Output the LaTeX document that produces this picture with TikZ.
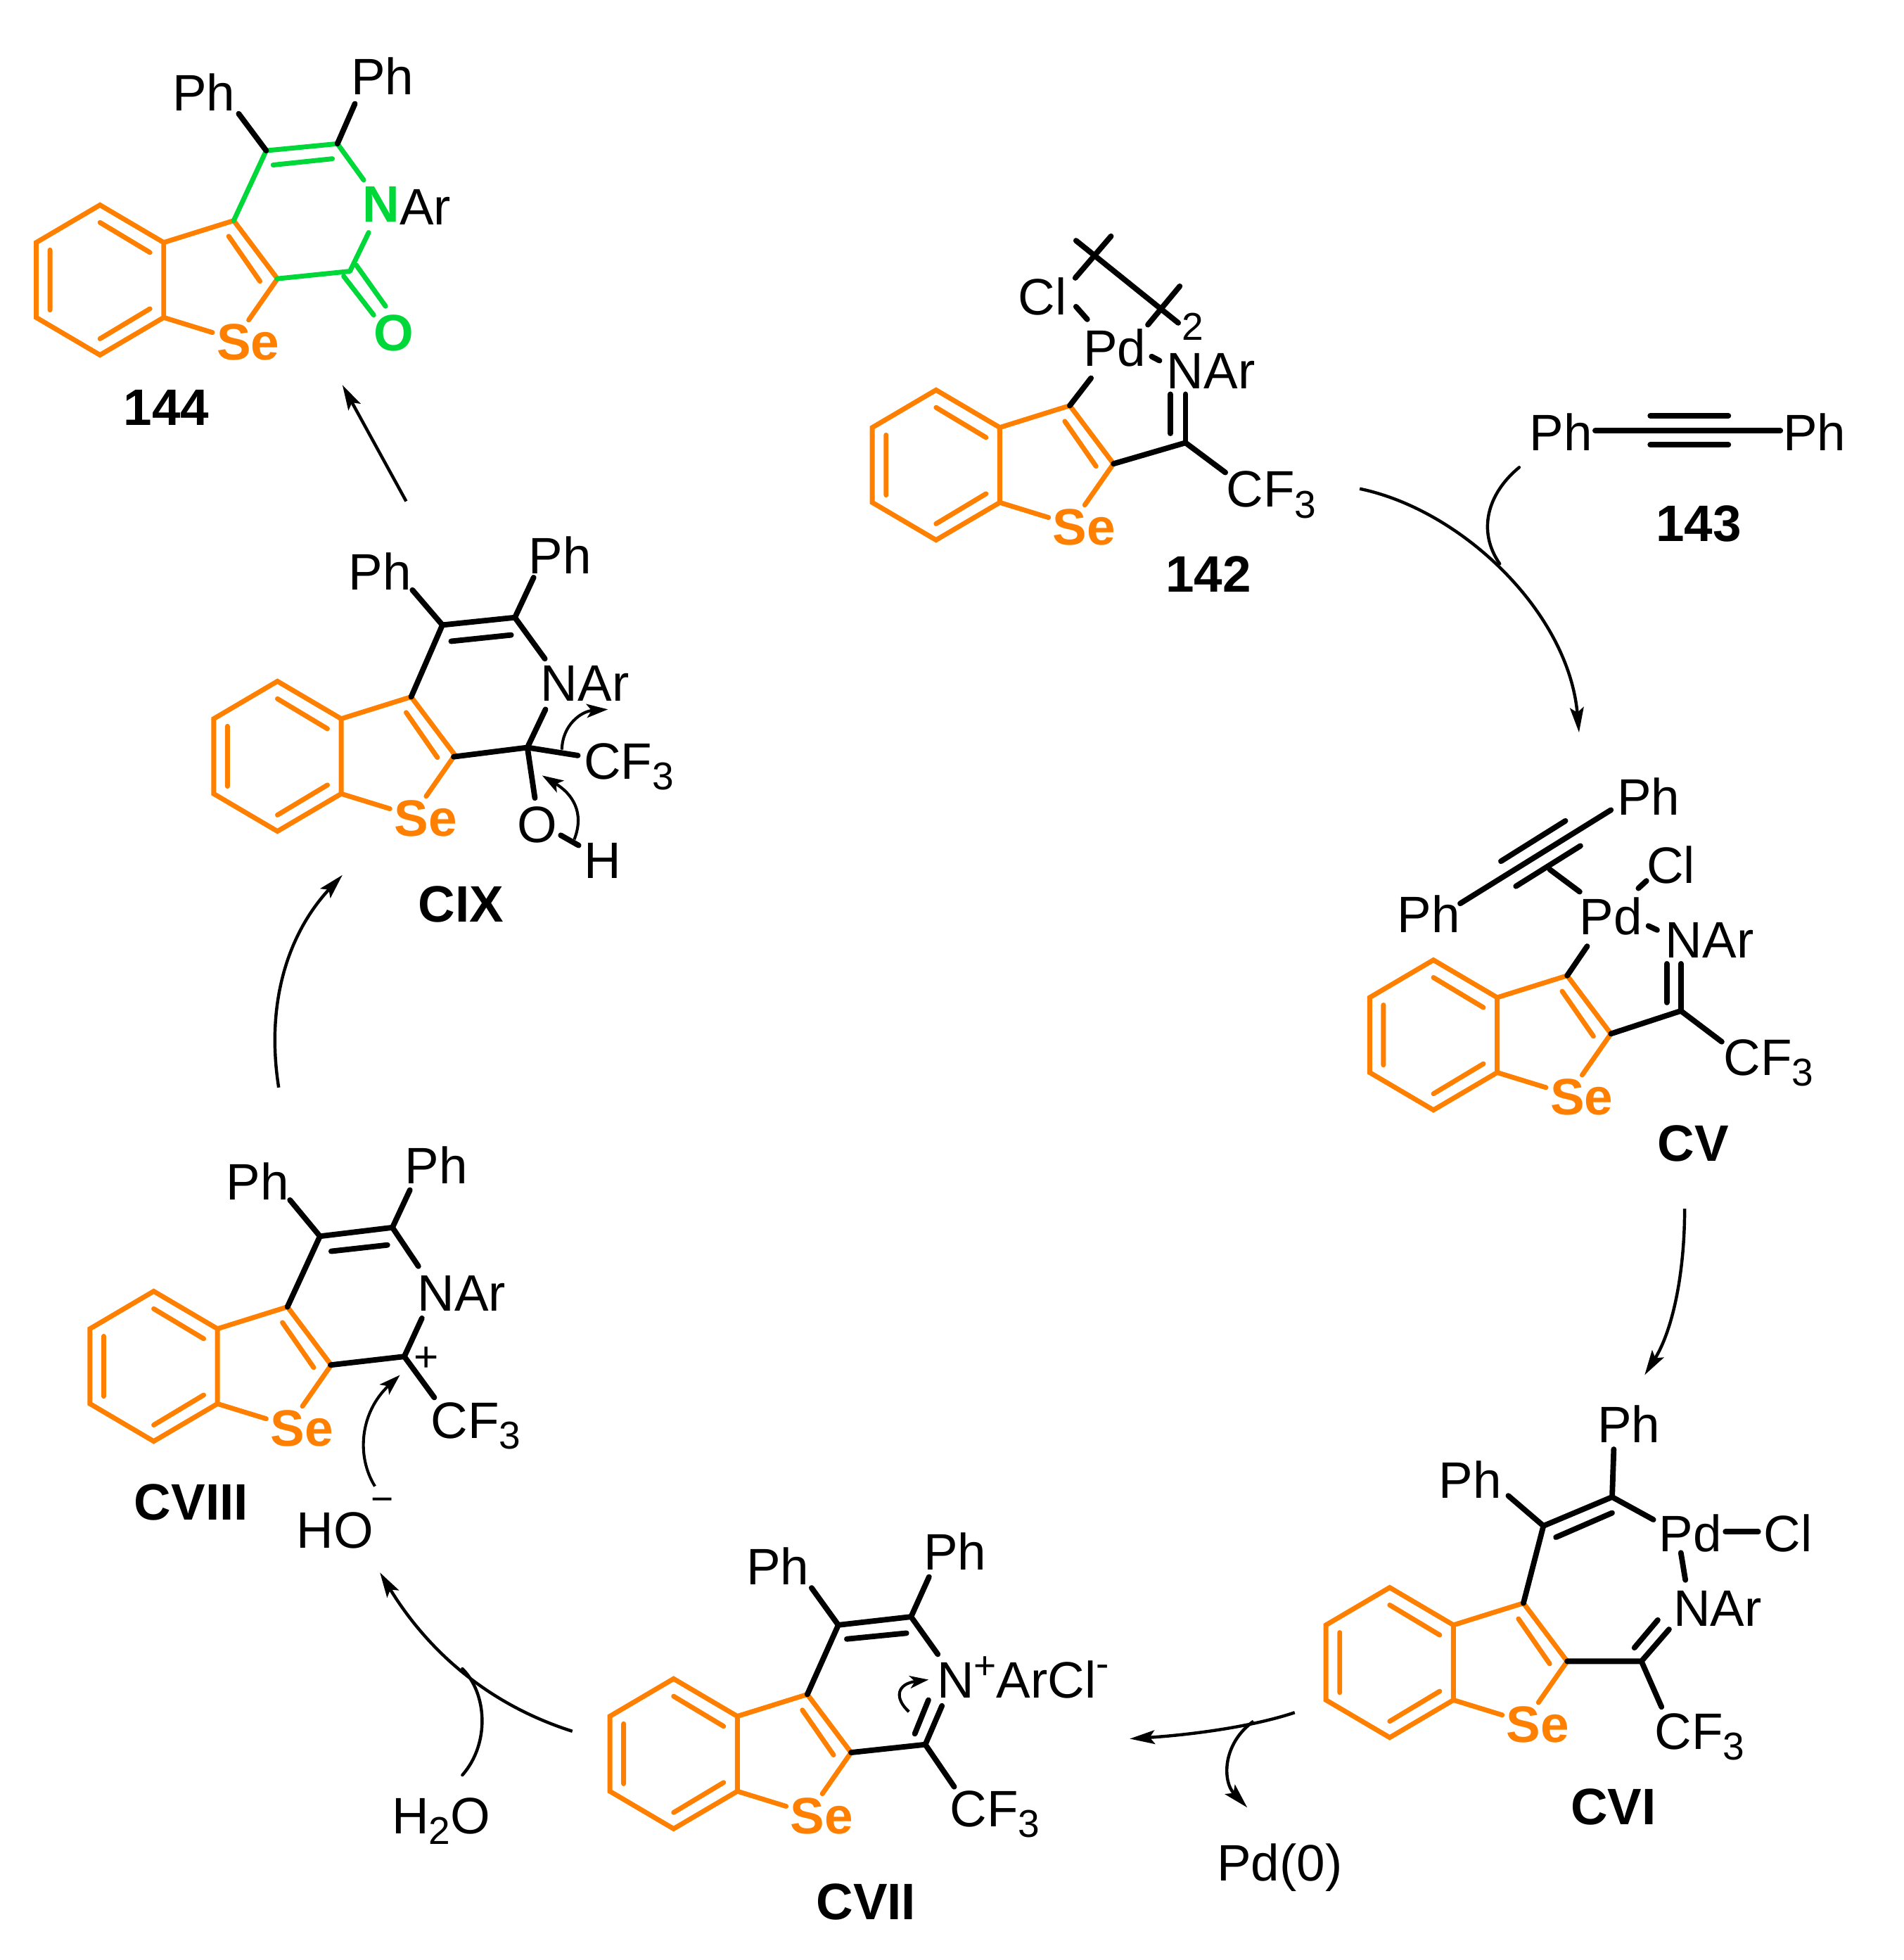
\documentclass[tikz,border=0pt]{standalone}
\usepackage{fontspec}
\setmainfont{Liberation Sans}
\usetikzlibrary{arrows.meta}
\definecolor{orng}{HTML}{FF8000}
\definecolor{grn}{HTML}{00D83A}
\tikzset{
  bond/.style={line width=4.4pt,line cap=round,line join=round,black},
  obond/.style={line width=3.9pt,line cap=round,line join=round,orng},
  gbond/.style={line width=3.9pt,line cap=round,line join=round,grn},
  rxn/.style={line width=2.5pt,black,-{Stealth[length=20pt,width=11pt,inset=4pt]}},
  curly/.style={line width=2.3pt,black,-{Stealth[length=17pt,width=11pt,inset=4pt]}},
  rxnplain/.style={line width=2.5pt,black,line cap=round},
  lab/.style={inner sep=0pt,text height=29.5pt,text depth=0pt,font=\fontsize{41}{41}\selectfont},
  blab/.style={lab,font=\fontsize{41}{41}\selectfont\bfseries},
}
\newcommand{\lowthree}[1]{\raisebox{-8.5pt}{\fontsize{31}{31}\selectfont #1}}
\newcommand{\BSring}[3]{%
  \begin{scope}[shift={(#2,#3)}]
    \draw[obond,line join=miter] (0,0) -- (51,30) -- (51,90) -- (0,120) -- (-51,90) -- (-51,30) -- cycle;
    \draw[obond] (0,14) -- (40,38) (-40,36) -- (-40,84) (0,107) -- (40,83);
    \draw[obond] (51,30) -- (107,12.5) -- (142,59) -- (119,92);
    \draw[obond] (51,90) -- (90,102);
    \draw[obond] (103,25) -- (128,61);
    \node[blab,text=orng] (#1) at (118.5,109) {Se};
  \end{scope}}
\begin{document}
\begin{tikzpicture}[x=1pt,y=-1pt]
\useasboundingbox (0,0) rectangle (1523,1568);

% ---- 144
\BSring{se144}{80}{164}
\draw[gbond] (187,176.5) -- (213,120.5) -- (270,115) -- (291,144);
\draw[gbond] (218.5,132) -- (266,127);
\draw[gbond] (295,186) -- (280,217) -- (221.5,223);
\draw[gbond] (275,221) -- (299,252) (285,212) -- (308.5,245);
\draw[bond] (191,91) -- (213,120.5) (284,83) -- (270,115);
\node[lab] (ph144a) at (163,74) {Ph};
\node[lab] (ph144b) at (306,61) {Ph};
\node[blab,text=grn] (n144) at (305,163) {N};
\node[lab,anchor=west] (ar144) at (319.5,165) {Ar};
\node[blab,text=grn] (o144) at (315,266) {O};
\node[blab] (l144) at (133,325.5) {144};

% ---- 142
\BSring{se142}{749}{312}
\draw[bond] (861,192.5) -- (942.8,258.3);
\draw[bond] (889,189) -- (860.4,222.3);
\draw[bond] (944,229) -- (918.5,259.8);
\draw[bond] (861,245.3) -- (870,255.5);
\draw[bond] (921.5,285.2) -- (927.8,288.5);
\draw[bond] (873,302.5) -- (856,324.5);
\draw[bond] (936.5,315.4) -- (936.5,346.7);
\draw[bond] (948.6,315.4) -- (948.6,354.2);
\draw[bond] (891,371) -- (948.6,354.2) -- (980.5,378);
\node[lab] (cl142) at (834,237) {Cl};
\node[lab] (pd142) at (892,278) {Pd};
\node[lab,font=\fontsize{31}{31}\selectfont,text height=21pt] (two142) at (954.6,261.5) {2};
\node[lab] (n142) at (969,296) {NAr};
\node[lab,anchor=west] (cf142) at (981,391) {CF\lowthree{3}};
\node[blab] (l142) at (967,459) {142};

% ---- 143
\node[lab] (ph143a) at (1249,346) {Ph};
\node[lab] (ph143b) at (1452,346) {Ph};
\coordinate (a143) at (1276.4,344.6);
\coordinate (b143) at (1424.6,344.6);
\draw[bond] (a143) -- (b143);
\draw[bond] (1320.5,332.6) -- (1383,332.6) (1320.5,355.8) -- (1383,355.8);
\node[blab] (l143) at (1359.3,418.5) {143};

% arrow 142 -> CV
\coordinate (s1) at (1088,391);
\coordinate (t1) at (1263.5,586);
\draw[rxn] (s1) .. controls (1170,408) and (1255,490) .. (t1);
\draw[rxnplain] (1215.6,373.9) .. controls (1190,395) and (1182,425) .. (1200,451);

% ---- CV
\BSring{secv}{1147}{768}
\draw[bond] (1289,648) -- (1168.4,722.8);
\draw[bond] (1252.6,656.7) -- (1201,689);
\draw[bond] (1264.6,676.7) -- (1213,709);
\draw[bond] (1240,695.5) -- (1264,713.4);
\draw[bond] (1317.4,704.7) -- (1311,710.6);
\draw[bond] (1319,740.7) -- (1326,744);
\draw[bond] (1270,757) -- (1254,780.5);
\draw[bond] (1333.7,771) -- (1333.7,802);
\draw[bond] (1345,771) -- (1345,808.7);
\draw[bond] (1289,827) -- (1345,808.7) -- (1377.7,833.4);
\node[lab] (ph1cv) at (1319,637) {Ph};
\node[lab] (clcv) at (1337,692) {Cl};
\node[lab] (ph2cv) at (1143.3,731) {Ph};
\node[lab] (pdcv) at (1289,733) {Pd};
\node[lab] (ncv) at (1368,751.5) {NAr};
\node[lab,anchor=west] (cfcv) at (1379,845.3) {CF\lowthree{3}};
\node[blab] (lcv) at (1355,914) {CV};

% arrow CV -> CVI
\coordinate (s2) at (1348,967);
\coordinate (t2) at (1316,1100);
\draw[rxn] (s2) .. controls (1348,1020) and (1338,1065) .. (t2);

% ---- CVI
\BSring{secvi}{1112}{1270}
\draw[bond] (1219,1282.5) -- (1235,1220.7) -- (1290,1197.6) -- (1323,1215.7);
\draw[bond] (1245,1229.8) -- (1290,1210.3);
\draw[bond] (1206.9,1196.6) -- (1235,1220.7) (1291.3,1159.4) -- (1290,1197.6);
\draw[bond] (1380.7,1225.4) -- (1406.9,1225.4);
\draw[bond] (1345,1242.2) -- (1348.6,1264);
\draw[bond] (1254,1329) -- (1313.4,1329) -- (1335.5,1303.5);
\draw[bond] (1326.5,1296) -- (1307.8,1318.2);
\draw[bond] (1313.4,1329) -- (1329.5,1365.5);
\node[lab] (ph1cvi) at (1176.3,1183.5) {Ph};
\node[lab] (ph2cvi) at (1303.3,1139.3) {Ph};
\node[lab] (pdcvi) at (1352.6,1226.8) {Pd};
\node[lab] (clcvi) at (1430.6,1226.8) {Cl};
\node[lab] (ncvi) at (1374.3,1286) {NAr};
\node[lab,anchor=west] (cfcvi) at (1324,1384.5) {CF\lowthree{3}};
\node[blab] (lcvi) at (1291,1445) {CVI};

% arrow CVI -> CVII
\coordinate (s3) at (1036,1370);
\coordinate (t3) at (904,1391);
\draw[rxn] (s3) .. controls (1000,1382) and (950,1388) .. (t3);
\coordinate (t3b) at (998,1446);
\draw[rxn] (1003,1377) .. controls (978,1395) and (978,1425) .. (t3b);
\node[lab] (pd0) at (1024,1490) {Pd(0)};

% ---- CVII
\BSring{secvii}{539}{1343}
\draw[bond] (646,1355.5) -- (670.8,1300) -- (729,1293.4) -- (750.4,1323.4);
\draw[bond] (677.6,1311.2) -- (725.3,1306.5);
\draw[bond] (649.4,1270.3) -- (670.8,1300) (743.4,1261.5) -- (729,1293.4);
\draw[bond] (753.7,1364.7) -- (740.4,1395.6) -- (681,1402);
\draw[bond] (742.9,1360) -- (732,1387);
\draw[bond] (740.4,1395.6) -- (763.5,1429.4);
\node[lab] (ph1cvii) at (622.3,1253) {Ph};
\node[lab] (ph2cvii) at (764.2,1241) {Ph};
\node[lab,anchor=west] (ncvii) at (749.5,1343.5) {N\raisebox{15pt}{\fontsize{31}{31}\selectfont +}ArCl\raisebox{17pt}{\fontsize{31}{31}\selectfont -}};
\node[lab,anchor=west] (cfcvii) at (760,1446.3) {CF\lowthree{3}};
\node[blab] (lcvii) at (693,1521) {CVII};
\draw[curly,-{Stealth[length=15pt,width=10pt,inset=4pt]}] (727.3,1369.4) .. controls (715,1358) and (718,1347) .. (743,1343.7);

% arrow CVII -> CVIII
\coordinate (s4) at (458,1385);
\coordinate (t4) at (304,1258);
\draw[rxn] (s4) .. controls (395,1365) and (345,1325) .. (t4);
\draw[rxnplain] (370,1420) .. controls (392,1395) and (390,1355) .. (370,1335);
\node[lab] (h2o) at (353,1452) {H\lowthree{2}O};
\node[lab] (ho) at (268.2,1223.5) {HO};
\node[lab,font=\fontsize{31}{31}\selectfont,text height=3pt] (hominus) at (306,1208) {−};
\draw[curly] (300,1189) .. controls (285,1165) and (288,1130) .. (320,1100);

% ---- CVIII
\BSring{secviii}{123}{1033}
\draw[bond] (230,1045.5) -- (256,989) -- (314,982) -- (334.8,1013);
\draw[bond] (265,1001) -- (310,996);
\draw[bond] (232,960) -- (256,989) (328,952) -- (314,982);
\draw[bond] (337.6,1054.6) -- (323.5,1085.2) -- (264.5,1092);
\draw[bond] (323.5,1085.2) -- (347.5,1118);
\node[lab] (ph1cviii) at (206,945) {Ph};
\node[lab] (ph2cviii) at (349,932) {Ph};
\node[lab] (ncviii) at (369.5,1034) {NAr};
\node[lab,font=\fontsize{34}{34}\selectfont,text height=22pt] (pluscviii) at (341.4,1086) {+};
\node[lab,anchor=west] (cfcviii) at (344.5,1135.8) {CF\lowthree{3}};
\node[blab] (lcviii) at (153,1201) {CVIII};

% arrow CVIII -> CIX
\coordinate (s5) at (223,870);
\coordinate (t5) at (274,700);
\draw[rxn] (s5) .. controls (212,800) and (232,745) .. (t5);

% ---- CIX
\BSring{secix}{222}{545}
\draw[bond] (329,557.5) -- (354,500) -- (412,494) -- (436,527);
\draw[bond] (361,513) -- (409,508);
\draw[bond] (330,472) -- (354,500) (427,462) -- (412,494);
\draw[bond] (436.5,567.5) -- (422,598) -- (363,605.4);
\draw[bond] (422,598) -- (462.4,604.4);
\draw[bond] (422,598) -- (428,638.4);
\draw[bond] (448.7,668.2) -- (463,676.3);
\node[lab] (ph1cix) at (304,457) {Ph};
\node[lab] (ph2cix) at (448,444) {Ph};
\node[lab] (ncix) at (468,546) {NAr};
\node[lab,anchor=west] (cfcix) at (467,608.7) {CF\lowthree{3}};
\node[lab] (ocix) at (430,659.4) {O};
\node[lab] (hcix) at (482,688) {H};
\node[blab] (lcix) at (369,723) {CIX};
\draw[curly] (449.6,599.7) .. controls (450,580) and (465,569) .. (486.4,567.5);
\draw[curly] (459.5,671.6) .. controls (468,650) and (458,635) .. (433.8,620.4);

% arrow CIX -> 144
\coordinate (s6) at (325,401);
\coordinate (t6) at (274,308);
\draw[rxn] (s6) -- (t6);
\end{tikzpicture}
\end{document}
